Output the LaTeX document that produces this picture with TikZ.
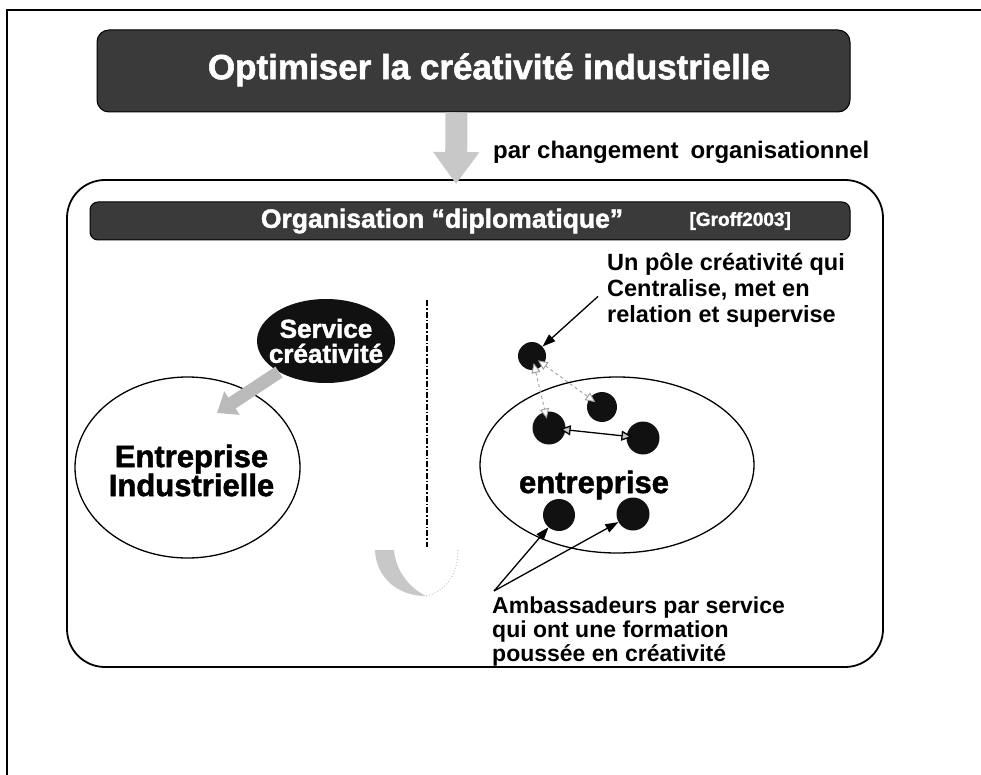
\documentclass[tikz,border=0pt]{standalone}
\usepackage{fontspec}
\setmainfont{Liberation Sans}
\newfontfamily\heavyfont{Liberation Sans}[FakeBold=1.6]
\usepackage{xcolor}
\usepackage{tikz}
\usetikzlibrary{shapes.geometric, arrows.meta, positioning, calc}
\definecolor{bandfill}{HTML}{3A3A3A}
\definecolor{fadefill}{HTML}{C8C8C8}
\definecolor{fadedraw}{HTML}{9C9C9C}
\definecolor{dotfill}{HTML}{111111}
\tikzset{
  band/.style={rectangle, rounded corners=12pt, fill=bandfill, draw=black, line width=1pt, inner sep=0pt},
  bandtxt/.style={text=white, inner sep=0pt, font=\heavyfont\bfseries\fontsize{35}{40}\selectfont},
  headtxt/.style={text=white, inner sep=0pt, font=\heavyfont\bfseries\fontsize{26.5}{30}\selectfont},
  reftxt/.style={text=white, inner sep=0pt, font=\heavyfont\bfseries\fontsize{19}{22}\selectfont},
  subtxt/.style={inner sep=0pt, font=\bfseries\fontsize{24}{28}\selectfont},
  framebox/.style={rectangle, rounded corners=38pt, draw=black, line width=1.8pt, inner sep=0pt},
  zone/.style={ellipse, draw=black, line width=1.3pt, inner sep=0pt},
  blob/.style={ellipse, fill=dotfill, inner sep=0pt},
  blobtxt/.style={text=white, align=center, inner sep=0pt, font=\heavyfont\bfseries\fontsize{26}{25}\selectfont},
  bigtxt/.style={align=center, inner sep=0pt, font=\heavyfont\bfseries\fontsize{31}{29}\selectfont},
  dot/.style={circle, fill=dotfill, inner sep=0pt},
  note/.style={align=left, inner sep=0pt, font=\bfseries\fontsize{23.5}{26}\selectfont},
  amb/.style={align=left, inner sep=0pt, font=\bfseries\fontsize{23}{24}\selectfont},
  pageline/.style={line width=2pt, draw=black},
  splitline/.style={line width=1.2pt, dash pattern=on 6pt off 2pt on 1.5pt off 2pt},
  fadearrow/.style={draw=fadefill, line width=22pt, -{Triangle[length=32pt, width=44pt]}},
  fadearrow2/.style={draw=fadedraw!70, line width=13pt, -{Triangle[length=18pt, width=27pt]}},
  arr/.style={-{Triangle[length=13pt, width=9pt]}, line width=1.3pt, draw=black},
  link/.style={{Triangle[length=11pt, width=10pt, fill=fadefill]}-{Triangle[length=11pt, width=10pt, fill=fadefill]}, line width=1.3pt, draw=black, shorten <=-6pt, shorten >=-6pt},
  linkdash/.style={{Triangle[length=10pt, width=9pt, fill=white]}-{Triangle[length=10pt, width=9pt, fill=white]}, line width=0.9pt, draw=fadedraw, dashed, shorten <=-7pt, shorten >=-7pt},
}

\begin{document}
\begin{tikzpicture}[x=1pt, y=-1pt, node distance=66pt]
  \useasboundingbox (0,0) rectangle (981,775);
  \draw[pageline] (7,775) -- (7,10) -- (981,10);

  % title and the move to the new organisation
  \node[band, minimum width=753pt, minimum height=82pt] (title) at (473.5,71) {};
  \node[bandtxt] (titletxt) at (489,70) {Optimiser la créativité industrielle};
  \node[subtxt, anchor=west] (via) at (493,152) {par changement\enspace organisationnel};

  \node[framebox, minimum width=816pt, minimum height=487pt] (box) at (475,423.5) {};
  \draw[fadearrow] ([xshift=-17pt]title.south) -- ([xshift=-19pt,yshift=-5pt]box.north);

  \node[band, rounded corners=8pt, minimum width=760pt, minimum height=38pt] (bar) at (470,221) {};
  \node[headtxt] (orgtxt) at (442,221) {Organisation “diplomatique”};
  \node[reftxt, right=of orgtxt] (groff) {[Groff2003]};

  \draw[splitline] (427,300) -- (427,547);

  % left: service beside the firm
  \node[zone, minimum width=225pt, minimum height=181pt] (ent) at (187.5,467.5) {};
  \node[bigtxt] (enttxt) at ([xshift=4pt,yshift=-3pt]ent.center) {Entreprise\\Industrielle};
  \node[blob, minimum width=138pt, minimum height=84pt] (serv) at (326,341) {};
  \node[blobtxt] (servtxt) at (serv) {Service\\créativité};
  \coordinate (hit) at (217,413);
  \draw[fadearrow2] (serv) -- (hit);

  % right: pole and ambassadors inside the firm
  \node[zone, minimum width=274pt, minimum height=176pt] (firm) at (617,465) {};
  \node[bigtxt] (firmtxt) at (594,485) {entreprise};
  \node[dot, minimum size=28pt] (pole) at (532,356) {};
  \node[dot, minimum size=30pt] (d1) at (602,407) {};
  \node[dot, minimum size=33pt] (d2) at (549,428) {};
  \node[dot, minimum size=33pt] (d3) at (643,438) {};
  \node[dot, minimum size=32pt] (d4) at (559,515) {};
  \node[dot, minimum size=33pt] (d5) at (633,514) {};
  \draw[linkdash] (pole) -- (d2);
  \draw[linkdash] (pole) -- (d1);
  \draw[link] (d2) -- (d3);

  \node[note, anchor=north west] (poletxt) at (607,253) {Un pôle créativité qui\\Centralise, met en\\relation et supervise};
  \draw[arr] ([xshift=-9pt,yshift=-6pt]poletxt.west) -- (pole);

  \node[amb, anchor=north west] (ambtxt) at (492,597) {Ambassadeurs par service\\qui ont une formation\\poussée en créativité};
  \coordinate (fork) at (494,591);
  \draw[arr] (fork) -- (d4);
  \draw[arr] (fork) -- (d5);

  % faded turn arrow under the split
  \fill[fadefill] (375,550) .. controls (376,578) and (398,596) .. (426,596) .. controls (410,588) and (396,572) .. (394,550) -- cycle;
  \draw[fadefill, dotted, line width=1pt] (426,596) .. controls (445,592) and (458,575) .. (458,550);
\end{tikzpicture}
\end{document}
